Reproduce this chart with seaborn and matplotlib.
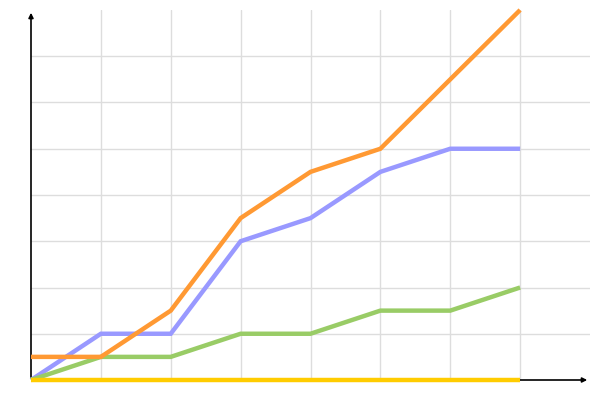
import pandas as pd
import seaborn as sns
import matplotlib
matplotlib.use("Agg")
import matplotlib.pyplot as plt

x = [0, 1, 2, 3, 4, 5, 6, 7]
blue = [0, 1, 1, 3, 3.5, 4.5, 5, 5]
green = [0, 0.5, 0.5, 1, 1, 1.5, 1.5, 2]
orange = [0.5, 0.5, 1.5, 3.5, 4.5, 5, 6.5, 8]
yellow = [0, 0, 0, 0, 0, 0, 0, 0]

names = ["blue", "green", "orange", "yellow"]
colors = {"blue": "#9999ff", "green": "#99cc66", "orange": "#ff9933", "yellow": "#ffcc00"}

rows = []
for name, vals in zip(names, [blue, green, orange, yellow]):
    for xi, v in zip(x, vals):
        rows.append({"x": xi, "y": v, "series": name})
df = pd.DataFrame(rows)

sns.set_style("white")
fig = plt.figure(figsize=(6, 4), dpi=100)
ax = fig.add_axes([31 / 600, 20 / 400, 559 / 600, 370 / 400])

# axis arrows first, lines go on top of them
arrow = dict(arrowstyle="-|>", color="black", lw=1.2, mutation_scale=7)
ax.annotate("", xy=(8, 0), xytext=(0, 0), arrowprops=arrow, annotation_clip=False, zorder=2)
ax.annotate("", xy=(0, 8), xytext=(0, 0), arrowprops=arrow, annotation_clip=False, zorder=2)

sns.lineplot(data=df, x="x", y="y", hue="series", hue_order=names,
             palette=colors, linewidth=3.2, legend=False, ax=ax)
for l in ax.lines:
    l.set_solid_capstyle("butt")
    l.set_solid_joinstyle("miter")
    l.set_clip_on(False)
    l.set_zorder(3)

ax.set_xlim(0, 8)
ax.set_ylim(0, 8)
ax.set_xticks(range(1, 8))
ax.set_yticks(range(1, 8))
ax.grid(True, color="#dddddd", linewidth=1)
ax.tick_params(length=0, labelbottom=False, labelleft=False)
ax.set_xlabel("")
ax.set_ylabel("")
for s in ax.spines.values():
    s.set_visible(False)

plt.savefig("out.png", dpi=100)
